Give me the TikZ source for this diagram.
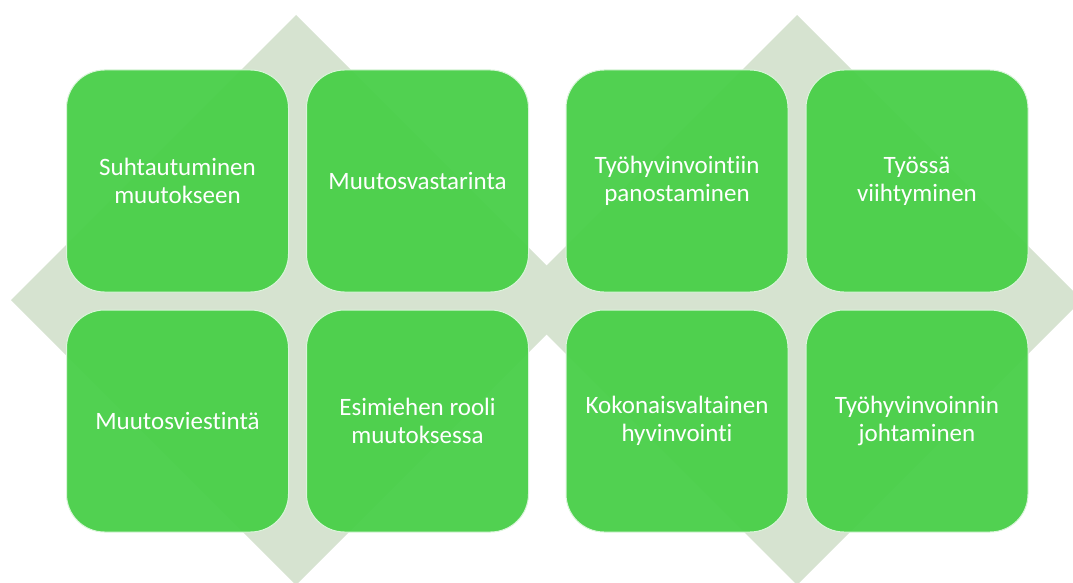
\documentclass[tikz,border=0pt]{standalone}
\usepackage{fontspec}
\setmainfont{Carlito}[Ligatures=NoCommon]
\definecolor{diamondgrey}{RGB}{214,227,208}
\definecolor{boxgreen}{RGB}{72,207,72}
\tikzset{
    tile/.style = {draw=white!80!boxgreen, line width=1pt, fill=boxgreen, fill opacity=0.95,
        text opacity=1, text=white, rounded corners=38pt, minimum width=222pt,
        minimum height=222pt, align=center, font=\fontsize{25}{28}\selectfont}
}
\begin{document}
\begin{tikzpicture}[x=1pt, y=-1pt]
    \useasboundingbox (0,0) rectangle (1073,583);
    % backdrop diamonds
    \foreach \cx in {296, 797}
    \fill[diamondgrey] (\cx-285, 300) -- (\cx, 15) -- (\cx+285, 300) -- (\cx, 585) -- cycle;
    % left group
    \node[tile] (rel) at (177.5, 181) {Suhtautuminen\\muutokseen};
    \node[tile] (res) at (417.5, 181) {Muutosvastarinta};
    \node[tile] (com) at (177.5, 421) {Muutosviestintä};
    \node[tile] (sup) at (417.5, 421) {Esimiehen rooli\\muutoksessa};
    % right group
    \node[tile] (inv) at (677, 181) {Työhyvinvointiin\\panostaminen};
    \node[tile] (enj) at (917, 181) {Työssä\\viihtyminen};
    \node[tile] (hol) at (677, 421) {Kokonaisvaltainen\\hyvinvointi};
    \node[tile] (lead) at (917, 421) {Työhyvinvoinnin\\johtaminen};
\end{tikzpicture}
\end{document}
